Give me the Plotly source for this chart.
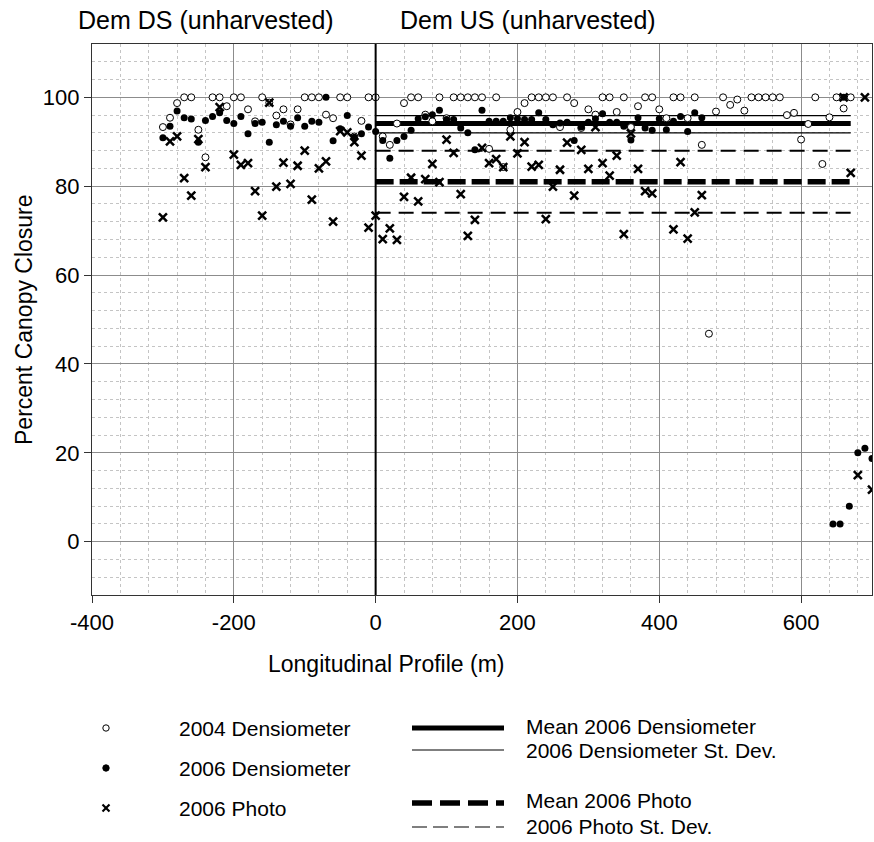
import plotly.graph_objects as go

# ---------------- data ----------------
x_2004 = [-300, -290, -280, -270, -260, -250, -240, -230, -220, -210, -200, -190, -180, -170, -160,
          -150, -140, -130, -120, -110, -100, -90, -80, -70, -60, -50, -40, -30, -20, -10, 0,
          10, 20, 30, 40, 50, 60, 70, 80, 90, 100, 110, 120, 130, 140, 150, 160, 170, 180, 190,
          200, 210, 220, 230, 240, 250, 260, 270, 280, 290, 300, 310, 320, 330, 340, 350, 360,
          370, 380, 390, 400, 410, 420, 430, 440, 450, 460, 470, 480, 490, 500, 510, 520, 530,
          540, 550, 560, 570, 580, 590, 600, 610, 620, 630, 640, 650, 660, 670]
y_2004 = [93.3, 95.4, 98.7, 100, 100, 92.7, 86.5, 100, 100, 98, 100, 100, 97.3, 94.6, 100,
          98.8, 95.9, 97.3, 93.9, 97.3, 100, 100, 100, 96.1, 95.3, 100, 100, 91.2, 94.7, 100, 100,
          91.2, 89.3, 94.1, 98.7, 100, 100, 96.1, 94.6, 100, 95.3, 100, 100, 100, 100, 100, 88.4, 100, 84.3, 92.7,
          96.7, 98.7, 100, 100, 100, 100, 93.3, 100, 98.7, 93.1, 97.3, 96.1, 100, 100, 96.7, 100, 93.3,
          98, 100, 100, 97.3, 95.3, 100, 100, 95.3, 100, 89.3, 46.8, 96.8, 100, 98.3, 99.5, 97, 100,
          100, 100, 100, 100, 96, 96.5, 90.5, 94, 100, 85, 95.5, 100, 97.5, 100]

x_2006d = [-300, -290, -280, -270, -260, -250, -240, -230, -220, -210, -200, -190, -180, -170, -160,
           -150, -140, -130, -120, -110, -100, -90, -80, -70, -60, -50, -40, -30, -20, -10, 0,
           10, 20, 30, 40, 50, 60, 70, 80, 90, 100, 110, 120, 130, 140, 150, 160, 170, 180, 190,
           200, 210, 220, 230, 240, 250, 260, 270, 280, 290, 300, 310, 320, 330, 340, 350, 360,
           370, 380, 390, 400, 410, 420, 430, 440, 450, 460, 645, 655, 660, 668, 680, 690, 700]
y_2006d = [90.9, 93.5, 96.9, 95.4, 95.1, 89.9, 94.8, 95.7, 96.5, 94.8, 94.1, 95.7, 91.8, 94.1, 94.4,
           89.9, 93.8, 94.6, 93.5, 95.4, 93.5, 94.6, 94.4, 100, 90.2, 92.9, 95.9, 91.0, 91.8, 93.3, 92.3,
           90.3, 86.3, 90.3, 91.2, 92.6, 95.2, 95.6, 96.1, 97.1, 95.0, 95.0, 93.1, 92.0, 88.2, 97.1, 94.6, 94.6, 94.6, 95.4,
           95.2, 95.0, 95.0, 96.5, 95.0, 93.8, 94.2, 94.4, 90.3, 93.3, 94.4, 95.2, 96.3, 94.4, 94.4, 93.5, 90.4,
           95.4, 93.1, 92.6, 95.2, 92.7, 94.6, 95.7, 92.3, 96.5, 95.4, 4, 4, 100, 8, 20, 21, 18.7]

x_photo = [-300, -290, -280, -270, -260, -250, -240, -220, -200, -190, -180, -170, -160, -150,
           -140, -130, -120, -110, -100, -90, -80, -70, -60, -50, -40, -30, -20, -10, 0,
           10, 20, 30, 40, 50, 60, 70, 80, 90, 100, 110, 120, 130, 140, 150, 160, 170, 180, 190,
           200, 210, 220, 230, 240, 250, 260, 270, 280, 290, 300, 310, 320, 330, 340, 350, 360,
           370, 380, 390, 420, 430, 440, 450, 460, 660, 670, 680, 690, 700]
y_photo = [73, 90.1, 91.2, 81.8, 77.9, 90.6, 84.3, 97.8, 87.1, 84.8, 85.2, 78.9, 73.4, 98.8,
           79.9, 85.3, 80.5, 84.6, 88.0, 77.0, 84.0, 85.6, 72.0, 92.4, 92.1, 89.9, 86.9, 70.7, 73.4,
           68.1, 70.5, 67.9, 77.6, 81.9, 76.6, 81.6, 85.0, 80.9, 90.5, 87.5, 78.2, 68.8, 72.4, 88.6, 85.2, 86.1, 84.3, 91.2,
           87.4, 89.9, 84.4, 84.8, 72.6, 79.9, 83.7, 89.8, 77.9, 88.2, 83.9, 93.3, 85.2, 82.4, 86.9, 69.2, 91.9,
           83.9, 78.9, 78.4, 70.3, 85.4, 68.2, 74.1, 78.0, 100, 83, 15, 100, 11.7]

stat_x = [0, 670]
dens_mean = 94.1
dens_sd_hi = 95.9
dens_sd_lo = 92.0
photo_mean = 81.0
photo_sd_hi = 88.0
photo_sd_lo = 74.0

x_ticks = [-400, -200, 0, 200, 400, 600]
y_ticks = [0, 20, 40, 60, 80, 100]

FONT = "Liberation Sans, Arial, sans-serif"

# ---------------- figure ----------------
W, H = 874, 842
L, R, T, B = 92, 2, 44, 247
PW, PH = W - L - R, H - T - B

def px(X):
    return (X - L) / PW

def py(Y):
    return (H - B - Y) / PH

fig = go.Figure()

def hline(y, width, dash):
    fig.add_trace(go.Scatter(x=stat_x, y=[y, y], mode="lines",
                             line=dict(color="black", width=width, dash=dash),
                             hoverinfo="skip", showlegend=False))

hline(dens_sd_hi, 1.2, "solid")
hline(dens_sd_lo, 1.2, "solid")
hline(dens_mean, 5, "solid")
hline(photo_sd_hi, 2, "15px,8px")
hline(photo_sd_lo, 2, "15px,8px")
hline(photo_mean, 5.5, "18px,6px")

fig.add_trace(go.Scatter(x=x_2004, y=y_2004, mode="markers",
                         marker=dict(symbol="circle", size=7, color="white",
                                     line=dict(color="black", width=1)),
                         showlegend=False))
fig.add_trace(go.Scatter(x=x_2006d, y=y_2006d, mode="markers",
                         marker=dict(symbol="circle", size=7, color="black",
                                     line=dict(color="black", width=0)),
                         showlegend=False))
fig.add_trace(go.Scatter(x=x_photo, y=y_photo, mode="markers",
                         marker=dict(symbol="x-thin", size=8,
                                     line=dict(color="black", width=2.5)),
                         showlegend=False))

# vertical divider at x = 0
fig.add_shape(type="line", xref="x", yref="y domain", x0=0, x1=0, y0=0, y1=1,
              line=dict(color="black", width=2))

axis_common = dict(showline=True, linecolor="#333333", linewidth=1.2, mirror=True,
                   ticks="outside", ticklen=7, tickcolor="#333333",
                   showgrid=True, gridcolor="#8c8c8c", gridwidth=1, zeroline=False,
                   tickfont=dict(family=FONT, size=22, color="black"))

fig.update_xaxes(range=[-400, 700], tickvals=x_ticks, ticktext=[str(v) for v in x_ticks],
                 minor=dict(dtick=40, tick0=-400, showgrid=True, gridcolor="#c4c4c4",
                            griddash="dot", gridwidth=1, ticks=""),
                 **axis_common)
fig.update_yaxes(range=[-12, 112], tickvals=y_ticks, ticktext=[str(v) for v in y_ticks],
                 minor=dict(dtick=4, tick0=0, showgrid=True, gridcolor="#c4c4c4",
                            griddash="dot", gridwidth=1, ticks=""),
                 **axis_common)

ann = []
def text(X, Y, s, size, xanchor="center", angle=0):
    ann.append(dict(x=px(X), y=py(Y), xref="paper", yref="paper", text=s, showarrow=False,
                    xanchor=xanchor, yanchor="middle", textangle=angle,
                    font=dict(family=FONT, size=size, color="black")))

text(76, 20, "Dem DS (unharvested)", 25, xanchor="left")
text(398, 20, "Dem US (unharvested)", 25, xanchor="left")
text(24, 320, "Percent Canopy Closure", 23, angle=-90)
text(386, 664, "Longitudinal Profile (m)", 23)

# legend (left column)
text(177, 728, "2004 Densiometer", 21, xanchor="left")
text(177, 768, "2006 Densiometer", 21, xanchor="left")
text(177, 808, "2006 Photo", 21, xanchor="left")
# legend (right column)
text(524, 726, "Mean 2006 Densiometer", 21, xanchor="left")
text(524, 750, "2006 Densiometer St. Dev.", 21, xanchor="left")
text(524, 800, "Mean 2006 Photo", 21, xanchor="left")
text(524, 826, "2006 Photo St. Dev.", 21, xanchor="left")
fig.update_layout(annotations=ann)

def pshape(**kw):
    fig.add_shape(xref="paper", yref="paper", **kw)

# legend symbols
r = 3.2
pshape(type="circle", x0=px(106 - r), x1=px(106 + r), y0=py(728 + r), y1=py(728 - r),
       line=dict(color="black", width=1), fillcolor="white")
pshape(type="circle", x0=px(106 - r), x1=px(106 + r), y0=py(768 + r), y1=py(768 - r),
       line=dict(color="black", width=1), fillcolor="black")
c = 3.5
pshape(type="line", x0=px(106 - c), x1=px(106 + c), y0=py(808 - c), y1=py(808 + c),
       line=dict(color="black", width=2.2))
pshape(type="line", x0=px(106 - c), x1=px(106 + c), y0=py(808 + c), y1=py(808 - c),
       line=dict(color="black", width=2.2))
# legend line samples
pshape(type="line", x0=px(412), x1=px(504), y0=py(728), y1=py(728), line=dict(color="black", width=5))
pshape(type="line", x0=px(412), x1=px(504), y0=py(750), y1=py(750), line=dict(color="black", width=1.2))
pshape(type="line", x0=px(412), x1=px(504), y0=py(803), y1=py(803), line=dict(color="black", width=5.5, dash="20px,8px"))
pshape(type="line", x0=px(412), x1=px(504), y0=py(827), y1=py(827), line=dict(color="black", width=1.2, dash="15px,6px"))

fig.update_layout(width=W, height=H, margin=dict(l=L, r=R, t=T, b=B),
                  paper_bgcolor="white", plot_bgcolor="white",
                  font=dict(family=FONT, color="black"))

fig.write_html("out.html")
